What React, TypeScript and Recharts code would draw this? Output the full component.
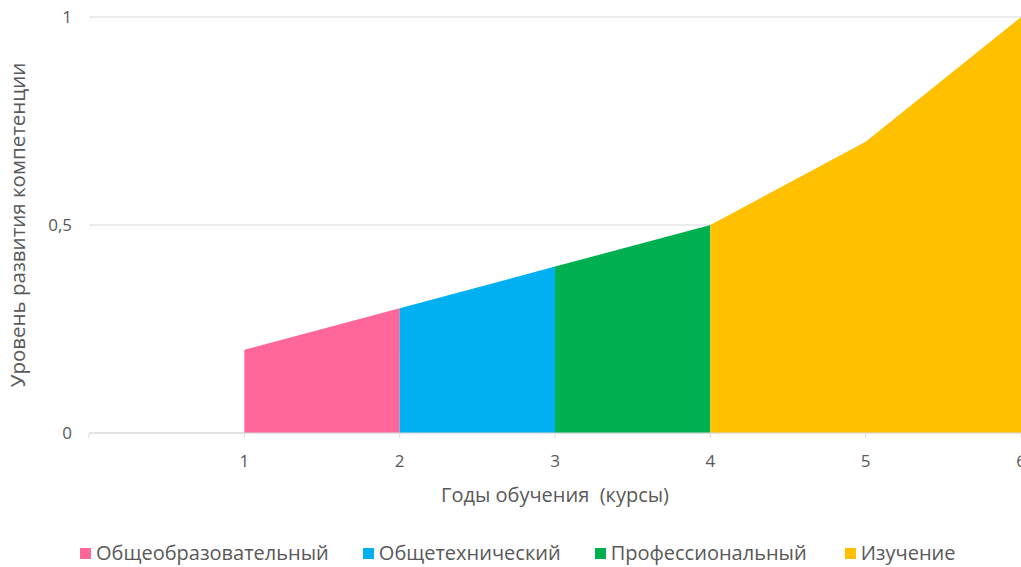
import { AreaChart, Area, XAxis, YAxis, CartesianGrid, Legend, Label } from "recharts";

// годы обучения (ось X)
const years = [0, 1, 2, 3, 4, 5, 6];
const xTicks = [0, 1, 2, 3, 4, 5, 6];
const yTicks = [0, 0.5, 1];

// уровень компетенции по этапам (null — этап не активен)
const general = [null, 0.2, 0.3, null, null, null, null];
const technical = [null, null, 0.3, 0.4, null, null, null];
const professional = [null, null, null, 0.4, 0.5, null, null];
const study = [null, null, null, null, 0.5, 0.7, 1.0];

const SERIES = [
  { key: "general", name: "Общеобразовательный", color: "#FF6699", values: general },
  { key: "technical", name: "Общетехнический", color: "#00B0F0", values: technical },
  { key: "professional", name: "Профессиональный", color: "#00B050", values: professional },
  { key: "study", name: "Изучение", color: "#FFC000", values: study },
];

const data = years.map((year, i) => {
  const row: Record<string, number | null> = { year };
  SERIES.forEach((s) => {
    row[s.key] = s.values[i];
  });
  return row;
});

const FONT = "'Open Sans', sans-serif";
const TEXT = "#595959";
const GRID = "#d9d9d9";

function LegendContent() {
  return (
    <div
      style={{
        display: "flex",
        paddingLeft: 80,
        fontFamily: FONT,
        fontSize: 20,
        color: TEXT,
        lineHeight: "28px",
        height: 28,
      }}
    >
      {SERIES.map((s, i) => (
        <div key={s.key} style={{ display: "flex", alignItems: "center", marginRight: i === 2 ? 38 : 34 }}>
          <span style={{ width: 11, height: 11, background: s.color, marginRight: 5, display: "inline-block" }} />
          <span>{s.name}</span>
        </div>
      ))}
    </div>
  );
}

export default function App() {
  return (
    <div
      style={{
        position: "absolute",
        left: 0,
        top: 0,
        width: 1021,
        height: 567,
        overflow: "hidden",
        background: "#fff",
      }}
    >
      <AreaChart width={1040} height={567} data={data} margin={{ top: 17, right: 19, bottom: 0, left: 0 }}>
        <CartesianGrid vertical={false} stroke={GRID} />
        <XAxis
          dataKey="year"
          type="number"
          domain={[0, 6]}
          ticks={xTicks}
          tickFormatter={(v: number) => (v === 0 ? "" : String(v))}
          stroke={GRID}
          tickSize={5}
          tickMargin={17}
          height={106}
          tick={{ fill: TEXT, fontSize: 17, fontFamily: FONT }}
        >
          <Label
            value={"Годы обучения\u00A0 (курсы)"}
            position="insideTop"
            offset={55}
            style={{ fill: TEXT, fontSize: 20, fontFamily: FONT }}
          />
        </XAxis>
        <YAxis
          type="number"
          domain={[0, 1]}
          ticks={yTicks}
          width={89}
          axisLine={false}
          tickLine={false}
          tickSize={0}
          tickMargin={17}
          tickFormatter={(v: number) => String(v).replace(".", ",")}
          tick={{ fill: TEXT, fontSize: 17, fontFamily: FONT }}
        >
          <Label
            value="Уровень развития компетенции"
            angle={-90}
            position="insideLeft"
            offset={18}
            style={{ fill: TEXT, fontSize: 20.5, fontFamily: FONT, textAnchor: "middle" }}
          />
        </YAxis>
        <Legend verticalAlign="bottom" wrapperStyle={{ left: 0, width: 1021 }} content={<LegendContent />} />
        {SERIES.map((s) => (
          <Area
            key={s.key}
            dataKey={s.key}
            name={s.name}
            type="linear"
            stroke="none"
            fill={s.color}
            fillOpacity={1}
            connectNulls={false}
            isAnimationActive={false}
            activeDot={false}
            dot={false}
          />
        ))}
      </AreaChart>
    </div>
  );
}
